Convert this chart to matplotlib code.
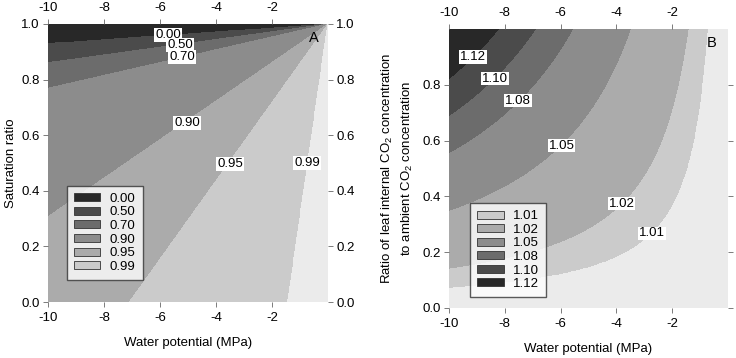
import numpy as np
import matplotlib
matplotlib.use("Agg")
import matplotlib.pyplot as plt
from matplotlib.patches import Patch

plt.rcParams['font.family'] = ['Liberation Sans', 'DejaVu Sans']
plt.rcParams['mathtext.fontset'] = 'custom'
plt.rcParams['mathtext.rm'] = 'Liberation Sans'

# ---------------- data ----------------
# Panel A: contour levels and the slope (1-y)/(-x) of each radial boundary line
a_levels = [0.00, 0.50, 0.70, 0.90, 0.95, 0.99]
a_slopes = [0.007, 0.0139, 0.0231, 0.0693, 0.141, 0.70]
a_label_x = [-5.71, -5.29, -5.21, -5.04, -3.50, -0.75]
a_label_y = [0.960, 0.924, 0.881, 0.644, 0.496, 0.500]

# Panel B: contour levels and the product (-x)*y along each boundary
b_levels = [1.01, 1.02, 1.05, 1.08, 1.10, 1.12]
b_products = [0.74, 1.43, 3.50, 5.57, 6.90, 8.24]
b_label_x = [-2.73, -3.81, -5.96, -7.52, -8.35, -9.13]
b_label_y = [0.267, 0.374, 0.582, 0.743, 0.822, 0.900]

# grey shades, darkest to lightest
shades = ['#282828', '#4b4b4b', '#6c6c6c', '#8c8c8c', '#ababab', '#cbcbcb', '#ebebeb']

xticks = [-10, -8, -6, -4, -2]
yticks_a = [0.0, 0.2, 0.4, 0.6, 0.8, 1.0]
yticks_b = [0.0, 0.2, 0.4, 0.6, 0.8]

FS = 9.5

fig = plt.figure(figsize=(7.36, 3.58), dpi=100)
axA = fig.add_axes([0.0652, 0.1564, 0.3805, 0.7766])
axB = fig.add_axes([0.6100, 0.1397, 0.3791, 0.7793])

xg = np.linspace(-10, 0, 601)
yg = np.linspace(0, 1, 601)
X, Y = np.meshgrid(xg, yg)

# ---- Panel A field ----
with np.errstate(divide='ignore', invalid='ignore'):
    S = (1 - Y) / np.maximum(-X, 1e-9)
    LS = np.log(np.maximum(S, 1e-12))
ZA = np.interp(LS, np.log(a_slopes), a_levels, left=-1.0, right=1.5)
bounds_a = [-2.0] + a_levels + [2.0]
axA.contourf(X, Y, ZA, levels=bounds_a, colors=shades)

# ---- Panel B field ----
P = (-X) * Y
ZB = np.interp(P, b_products, b_levels, left=b_levels[0] - 0.005, right=b_levels[-1] + 0.05)
bounds_b = [0.5] + b_levels + [2.0]
axB.contourf(X, Y, ZB, levels=bounds_b, colors=shades[::-1])

box = dict(facecolor='white', edgecolor='none', pad=0.6)
for lv, lx, ly in zip(a_levels, a_label_x, a_label_y):
    axA.text(lx, ly, f"{lv:.2f}", ha='center', va='center', fontsize=FS, bbox=box, zorder=5)
for lv, lx, ly in zip(b_levels, b_label_x, b_label_y):
    axB.text(lx, ly, f"{lv:.2f}", ha='center', va='center', fontsize=FS, bbox=box, zorder=5)

for ax in (axA, axB):
    ax.set_xlim(-10, 0)
    ax.set_ylim(0, 1)
    for sp in ax.spines.values():
        sp.set_visible(False)
    ax.set_xticks(xticks)
    ax.set_xticklabels([f"{t:d}" for t in xticks])
    ax.tick_params(direction='out', length=3.5, width=0.6, color='#666666',
                   labelsize=FS, top=True, labeltop=True, right=True, pad=2.5)
    ax.tick_params(axis='x', which='both', pad=4)
    ax.set_xlabel('Water potential (MPa)', fontsize=FS, labelpad=9)

axA.set_yticks(yticks_a)
axA.set_yticklabels([f"{t:.1f}" for t in yticks_a])
axA.tick_params(labelright=True)
axA.set_ylabel('Saturation ratio', fontsize=FS, labelpad=3)

axB.set_yticks(yticks_b)
axB.set_yticklabels([f"{t:.1f}" for t in yticks_b])
axB.tick_params(labelright=False)
axB.set_ylabel('Ratio of leaf internal CO$_2$ concentration\nto ambient CO$_2$ concentration',
               fontsize=FS, labelpad=5, linespacing=1.45)

axA.text(0.95, 0.95, 'A', transform=axA.transAxes, fontsize=10.5, ha='center', va='center')
axB.text(0.943, 0.95, 'B', transform=axB.transAxes, fontsize=10.5, ha='center', va='center')

# legends
hA = [Patch(facecolor=shades[i], edgecolor='#333333', linewidth=0.6) for i in range(6)]
legA = axA.legend(hA, [f"{v:.2f}" for v in a_levels], loc='lower left',
                  bbox_to_anchor=(0.067, 0.079), fontsize=FS, frameon=True, fancybox=False,
                  handlelength=2.0, handleheight=0.55, labelspacing=0.12, borderpad=0.55,
                  handletextpad=0.7, borderaxespad=0)
legA.get_frame().set_edgecolor('#333333')
legA.get_frame().set_linewidth(1.0)

hB = [Patch(facecolor=shades[5 - i], edgecolor='#333333', linewidth=0.6) for i in range(6)]
legB = axB.legend(hB, [f"{v:.2f}" for v in b_levels], loc='lower left',
                  bbox_to_anchor=(0.075, 0.038), fontsize=FS, frameon=True, fancybox=False,
                  handlelength=2.0, handleheight=0.55, labelspacing=0.12, borderpad=0.55,
                  handletextpad=0.7, borderaxespad=0)
legB.get_frame().set_edgecolor('#333333')
legB.get_frame().set_linewidth(1.0)

fig.savefig('out.png', dpi=100)
